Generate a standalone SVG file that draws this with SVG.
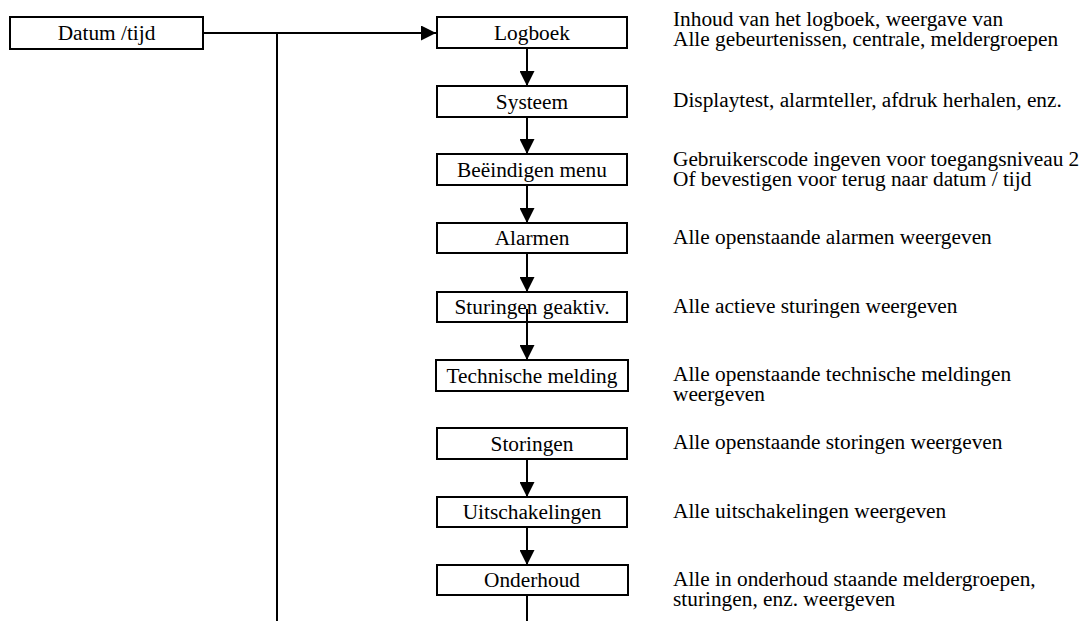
<svg xmlns="http://www.w3.org/2000/svg" width="1080" height="621" viewBox="0 0 1080 621">
<style>
.box{fill:#fff;stroke:#000;stroke-width:2}
.bt{font-family:"Liberation Serif","Times New Roman",serif;font-size:21.33px;text-anchor:middle;fill:#000}
.rt{font-family:"Liberation Serif","Times New Roman",serif;font-size:21.33px;fill:#000}
.ln{stroke:#000;stroke-width:2;fill:none}
</style>
<defs>
<marker id="ah" viewBox="0 0 10 10" refX="10" refY="5" markerUnits="userSpaceOnUse" markerWidth="15" markerHeight="15" orient="auto">
<path d="M0,0 L10,5 L0,10 z" fill="#000"/>
</marker>
</defs>
<rect width="1080" height="621" fill="#fff"/>
<g id="datum"><rect class="box" x="10" y="17" width="193" height="32"/><text class="bt" x="106.5" y="40">Datum /tijd</text></g>
<g id="logboek"><rect class="box" x="437" y="17" width="190" height="31"/><text class="bt" x="532" y="40">Logboek</text>
<text class="rt" x="673" y="26">Inhoud van het logboek, weergave van</text><text class="rt" x="673" y="46">Alle gebeurtenissen, centrale, meldergroepen</text></g>
<g id="systeem"><rect class="box" x="437" y="86" width="190" height="31"/><text class="bt" x="532" y="109">Systeem</text>
<text class="rt" x="673" y="107">Displaytest, alarmteller, afdruk herhalen, enz.</text></g>
<g id="beeindigen"><rect class="box" x="437" y="154" width="190" height="31"/><text class="bt" x="532" y="177">Beëindigen menu</text>
<text class="rt" x="673" y="166">Gebruikerscode ingeven voor toegangsniveau 2</text><text class="rt" x="673" y="186">Of bevestigen voor terug naar datum / tijd</text></g>
<g id="alarmen"><rect class="box" x="437" y="223" width="190" height="30"/><text class="bt" x="532" y="245">Alarmen</text>
<text class="rt" x="673" y="244">Alle openstaande alarmen weergeven</text></g>
<g id="sturingen"><rect class="box" x="437" y="292" width="190" height="30"/><text class="bt" x="532" y="314">Sturingen geaktiv.</text>
<text class="rt" x="673" y="313">Alle actieve sturingen weergeven</text></g>
<g id="technische"><rect class="box" x="436" y="360" width="192" height="31"/><text class="bt" x="532" y="383">Technische melding</text>
<text class="rt" x="673" y="381">Alle openstaande technische meldingen</text><text class="rt" x="673" y="401">weergeven</text></g>
<g id="storingen"><rect class="box" x="437" y="428" width="190" height="31"/><text class="bt" x="532" y="451">Storingen</text>
<text class="rt" x="673" y="449">Alle openstaande storingen weergeven</text></g>
<g id="uitschakelingen"><rect class="box" x="437" y="497" width="190" height="30"/><text class="bt" x="532" y="519">Uitschakelingen</text>
<text class="rt" x="673" y="518">Alle uitschakelingen weergeven</text></g>
<g id="onderhoud"><rect class="box" x="437" y="565" width="191" height="30"/><text class="bt" x="532" y="587">Onderhoud</text>
<text class="rt" x="673" y="586">Alle in onderhoud staande meldergroepen,</text><text class="rt" x="673" y="606">sturingen, enz. weergeven</text></g>
<g id="connectors">
<line class="ln" x1="204" y1="33" x2="436" y2="33" marker-end="url(#ah)"/>
<line class="ln" x1="277" y1="33" x2="277" y2="621"/>
<line class="ln" x1="527" y1="49" x2="527" y2="86" marker-end="url(#ah)"/>
<line class="ln" x1="527" y1="118" x2="527" y2="154" marker-end="url(#ah)"/>
<line class="ln" x1="527" y1="186" x2="527" y2="223" marker-end="url(#ah)"/>
<line class="ln" x1="527" y1="254" x2="527" y2="292" marker-end="url(#ah)"/>
<line class="ln" x1="527" y1="309" x2="527" y2="360" marker-end="url(#ah)"/>
<line class="ln" x1="527" y1="460" x2="527" y2="497" marker-end="url(#ah)"/>
<line class="ln" x1="527" y1="528" x2="527" y2="565" marker-end="url(#ah)"/>
<line class="ln" x1="527" y1="596" x2="527" y2="621"/>
</g>
</svg>
